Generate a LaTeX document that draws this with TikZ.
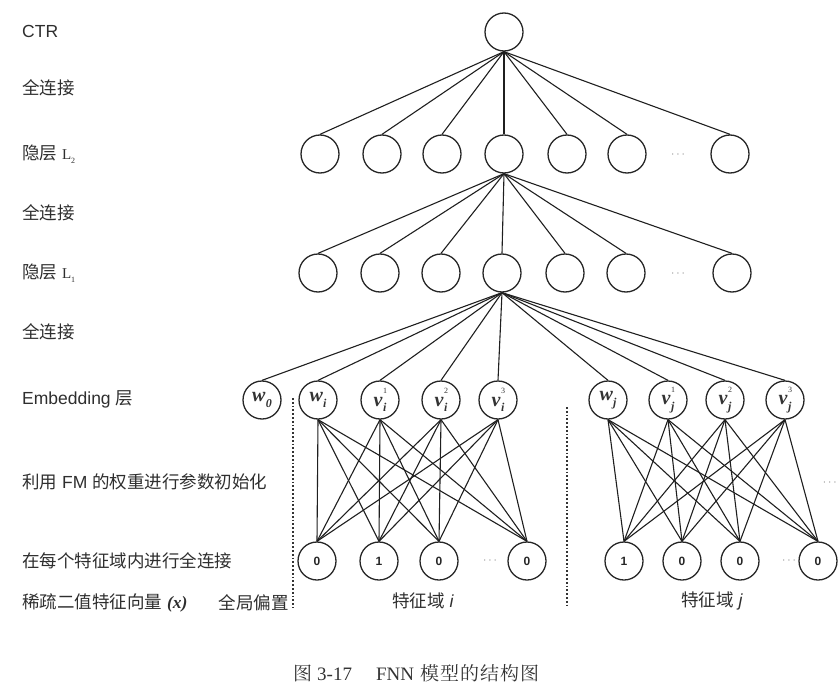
\documentclass[tikz,border=0pt]{standalone}
\usepackage{fontspec}
\setmainfont{Liberation Serif}
\newfontfamily\latinsans{Liberation Sans}
\newfontfamily\zhsans{Noto Sans CJK SC}
\newfontfamily\zhserif{Noto Serif CJK SC}
\newcommand{\zh}[1]{{\zhsans #1}}
% embedding weight with a subscript and an optional superscript
\newcommand{\embw}[2]{#1\kern0.3pt\raisebox{-0.28em}{\fontsize{12}{12}\selectfont #2}}
\newcommand{\embv}[3]{#1\kern0.6pt\makebox[0pt][l]{\raisebox{0.62em}{\fontsize{8}{8}\selectfont\mdseries\upshape #3}}\raisebox{-0.28em}{\fontsize{12}{12}\selectfont #2}}
\begin{document}
\begin{tikzpicture}[x=1pt,y=-1pt,
  neuron/.style={circle,draw=black!85,line width=1.3pt,minimum size=38pt,inner sep=0pt},
  link/.style={draw=black!88,line width=1.1pt},
  rowlabel/.style={anchor=west,inner sep=0pt,text=black!82,font=\latinsans\fontsize{17.5}{18}\selectfont},
  bit/.style={neuron,text=black!85,font=\latinsans\bfseries\fontsize{12}{12}\selectfont},
  emb/.style={neuron,text=black!80,font=\fontsize{20}{20}\selectfont\bfseries\itshape},
  more/.style={text=black!45,inner sep=0pt,font=\latinsans\fontsize{12}{12}\selectfont},
  split/.style={draw=black!80,line width=1.7pt,dash pattern=on 1.7pt off 2.1pt}
]
\useasboundingbox (0,0) rectangle (838,693);

% ---- row captions on the left
\node[rowlabel] (tctr) at (22,31) {CTR};
\node[rowlabel] (tfc3) at (22,88) {\zh{全连接}};
\node[rowlabel] (tl2)  at (22,154) {\zh{隐层} {\rmfamily\fontsize{15}{15}\selectfont L\raisebox{-0.25em}{\fontsize{8}{8}\selectfont 2}}};
\node[rowlabel] (tfc2) at (22,213) {\zh{全连接}};
\node[rowlabel] (tl1)  at (22,273) {\zh{隐层} {\rmfamily\fontsize{15}{15}\selectfont L\raisebox{-0.25em}{\fontsize{8}{8}\selectfont 1}}};
\node[rowlabel] (tfc1) at (22,332) {\zh{全连接}};
\node[rowlabel] (temb) at (22,399) {Embedding \zh{层}};
\node[rowlabel] (tfm)  at (22,482) {\zh{利用} FM \zh{的权重进行参数初始化}};
\node[rowlabel] (tfld) at (22,561) {\zh{在每个特征域内进行全连接}};
\node[rowlabel] (tx)   at (22,603) {\zh{稀疏二值特征向量} {\rmfamily\bfseries\itshape (x)}};
\node[rowlabel,anchor=east] (tbias) at (289,603) {\zh{全局偏置}};
\node[rowlabel,anchor=center] (tfi) at (423,601) {\zh{特征域} {\itshape i}};
\node[rowlabel,anchor=center] (tfj) at (712,601) {\zh{特征域} {\itshape j}};

% ---- output
\node[neuron] (ctr) at (504,32) {};

% ---- hidden layer L2
\foreach \n/\x in {h2a/320,h2b/382,h2c/442,h2d/504,h2e/567,h2f/627,h2g/730}
  \node[neuron] (\n) at (\x,154) {};
\node[more] (h2dots) at (678,155) {$\cdots$};

% ---- hidden layer L1
\foreach \n/\x in {h1a/318,h1b/380,h1c/441,h1d/502,h1e/565,h1f/626,h1g/732}
  \node[neuron] (\n) at (\x,273) {};
\node[more] (h1dots) at (678,274) {$\cdots$};

% ---- embedding layer
\node[emb] (w0)  at (262,400) {\embw{w}{0}};
\node[emb] (wi)  at (318,400) {\embw{w}{i}};
\node[emb] (vi1) at (380,400) {\embv{v}{i}{1}};
\node[emb] (vi2) at (441,400) {\embv{v}{i}{2}};
\node[emb] (vi3) at (498,400) {\embv{v}{i}{3}};
\node[emb] (wj)  at (608,400) {\embw{w}{j}};
\node[emb] (vj1) at (668,400) {\embv{v}{j}{1}};
\node[emb] (vj2) at (725,400) {\embv{v}{j}{2}};
\node[emb] (vj3) at (785,400) {\embv{v}{j}{3}};

% ---- sparse binary input
\node[bit] (xi1) at (317,561) {0};
\node[bit] (xi2) at (379,561) {1};
\node[bit] (xi3) at (439,561) {0};
\node[more] (xidots) at (490,561) {$\cdots$};
\node[bit] (xi4) at (527,561) {0};
\node[bit] (xj1) at (624,561) {1};
\node[bit] (xj2) at (682,561) {0};
\node[bit] (xj3) at (740,561) {0};
\node[more] (xjdots) at (789,561) {$\cdots$};
\node[bit] (xj4) at (818,561) {0};
\node[more,anchor=east] (rdots) at (837,483) {$\cdots$};

% ---- field separators
\coordinate (sa1) at (293,398);
\coordinate (sa2) at (293,608);
\coordinate (sb1) at (567,407);
\coordinate (sb2) at (567,608);
\draw[split] (sa1) -- (sa2);
\draw[split] (sb1) -- (sb2);

% ---- connections
\foreach \n in {h2a,h2b,h2c,h2d,h2e,h2f,h2g}
  \draw[link] (ctr.south) -- (\n.north);
\foreach \n in {h1a,h1b,h1c,h1d,h1e,h1f,h1g}
  \draw[link] (h2d.south) -- (\n.north);
\foreach \n in {w0,wi,vi1,vi2,vi3,wj,vj1,vj2,vj3}
  \draw[link] (h1d.south) -- (\n.north);
\foreach \a in {wi,vi1,vi2,vi3}
  \foreach \b in {xi1,xi2,xi3,xi4}
    \draw[link] (\a.south) -- (\b.north);
\foreach \a in {wj,vj1,vj2,vj3}
  \foreach \b in {xj1,xj2,xj3,xj4}
    \draw[link] (\a.south) -- (\b.north);

% ---- caption
\node[anchor=west,inner sep=0pt,text=black!80,font=\fontsize{19}{20}\selectfont] (cap) at (293,673)
  {{\zhserif 图}\hspace{5pt}3-17\hspace{24pt}FNN\hspace{6pt}{\zhserif 模\hspace{1pt}型\hspace{1pt}的\hspace{1pt}结\hspace{1pt}构\hspace{1pt}图}};
\end{tikzpicture}
\end{document}
